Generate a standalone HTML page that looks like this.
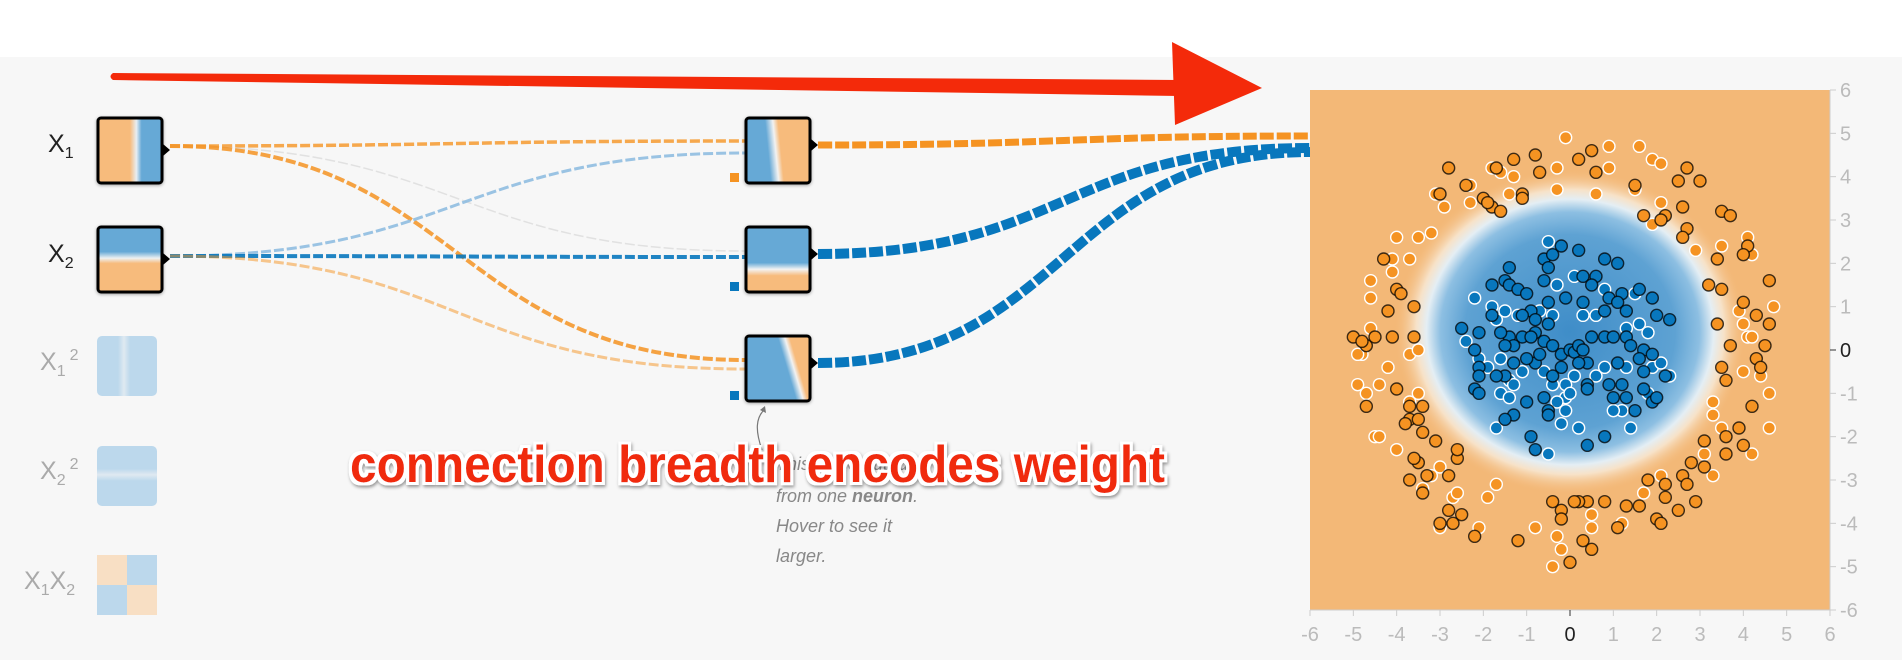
<!DOCTYPE html>
<html><head><meta charset="utf-8">
<style>
html,body{margin:0;padding:0;width:1902px;height:660px;overflow:hidden;background:#fff;font-family:"Liberation Sans",sans-serif}
svg{position:absolute;left:0;top:0}
</style></head>
<body>
<svg id="main" width="1902" height="660" viewBox="0 0 1902 660">
<defs>
 <linearGradient id="gX1" x1="0" x2="1" y1="0" y2="0"><stop offset="0.5" stop-color="#f7bb7c"/><stop offset="0.6" stop-color="#e8eef3"/><stop offset="0.68" stop-color="#66a9d6"/></linearGradient>
 <linearGradient id="gX2" x1="0" x2="0" y1="0" y2="1"><stop offset="0.38" stop-color="#66a9d6"/><stop offset="0.48" stop-color="#eef1f2"/><stop offset="0.56" stop-color="#f7bb7c"/></linearGradient>
 <linearGradient id="gH1" x1="0" x2="1" y1="0.1" y2="0"><stop offset="0.3" stop-color="#66a9d6"/><stop offset="0.42" stop-color="#f2f2f2"/><stop offset="0.5" stop-color="#f7bb7c"/></linearGradient>
 <linearGradient id="gH2" x1="0" x2="0" y1="0" y2="1"><stop offset="0.55" stop-color="#66a9d6"/><stop offset="0.65" stop-color="#f3f3f3"/><stop offset="0.75" stop-color="#f7bb7c"/></linearGradient>
 <linearGradient id="gH3" x1="0" x2="1" y1="0" y2="-0.3"><stop offset="0.45" stop-color="#66a9d6"/><stop offset="0.55" stop-color="#f2f2f2"/><stop offset="0.62" stop-color="#f7bb7c"/></linearGradient>
 <linearGradient id="gX1s" x1="0" x2="1"><stop offset="0.35" stop-color="#bcd8ec"/><stop offset="0.45" stop-color="#dfe9f1"/><stop offset="0.55" stop-color="#bcd8ec"/></linearGradient>
 <linearGradient id="gX2s" x1="0" x2="0" y1="0" y2="1"><stop offset="0.38" stop-color="#bcd8ec"/><stop offset="0.48" stop-color="#dfe9f1"/><stop offset="0.58" stop-color="#bcd8ec"/></linearGradient>
 <radialGradient id="blob" cx="0.5" cy="0.5" r="0.5"><stop offset="0" stop-color="#3f8dc8"/><stop offset="0.6" stop-color="#5ea2d3"/><stop offset="0.74" stop-color="#8dbfe2"/><stop offset="0.82" stop-color="#e4eef4"/><stop offset="0.88" stop-color="#f7e2c8"/><stop offset="1" stop-color="#f4bd80" stop-opacity="0"/></radialGradient>
 <filter id="sh"><feDropShadow dx="0" dy="1" stdDeviation="1.5" flood-opacity="0.35"/></filter>
 <filter id="glow"><feMorphology operator="dilate" radius="3" in="SourceAlpha" result="d"/><feFlood flood-color="#fff"/><feComposite in2="d" operator="in" result="w"/><feDropShadow in="w" dx="1" dy="2" stdDeviation="1.5" flood-opacity="0.4" result="ws"/><feMerge><feMergeNode in="ws"/><feMergeNode in="SourceGraphic"/></feMerge></filter>
</defs>
<rect x="0" y="57" width="1902" height="603" fill="#f7f7f7"/>

<g id="links"></g>

<g font-size="25" fill="#222">
 <text x="48" y="152">X<tspan font-size="16" dy="6">1</tspan></text>
 <text x="48" y="262">X<tspan font-size="16" dy="6">2</tspan></text>
 <text x="40" y="370" fill="#aaa">X<tspan font-size="16" dy="6">1</tspan><tspan font-size="16" dy="-16" dx="4">2</tspan></text>
 <text x="40" y="479" fill="#aaa">X<tspan font-size="16" dy="6">2</tspan><tspan font-size="16" dy="-16" dx="4">2</tspan></text>
 <text x="24" y="589" fill="#aaa">X<tspan font-size="16" dy="6">1</tspan><tspan dy="-6">X</tspan><tspan font-size="16" dy="6">2</tspan></text>
 <rect x="98" y="118" width="64" height="65" rx="3" fill="url(#gX1)" stroke="#000" stroke-width="3" filter="url(#sh)"/>
 <rect x="98" y="227" width="64" height="65" rx="3" fill="url(#gX2)" stroke="#000" stroke-width="3" filter="url(#sh)"/>
 <rect x="97" y="336" width="60" height="60" rx="5" fill="url(#gX1s)"/>
 <rect x="97" y="446" width="60" height="60" rx="5" fill="url(#gX2s)"/>
 <g><rect x="97" y="555" width="30" height="30" fill="#f8dfc4"/><rect x="127" y="555" width="30" height="30" fill="#bcd8ec"/><rect x="97" y="585" width="30" height="30" fill="#bcd8ec"/><rect x="127" y="585" width="30" height="30" fill="#f8dfc4"/></g>
 <path d="M163 144 l7 6 -7 6z" fill="#000"/><path d="M163 253 l7 6 -7 6z" fill="#000"/>
</g>

<g>
 <rect x="746" y="118" width="64" height="65" rx="3" fill="url(#gH1)" stroke="#000" stroke-width="3" filter="url(#sh)"/>
 <rect x="746" y="227" width="64" height="65" rx="3" fill="url(#gH2)" stroke="#000" stroke-width="3" filter="url(#sh)"/>
 <rect x="746" y="336" width="64" height="65" rx="3" fill="url(#gH3)" stroke="#000" stroke-width="3" filter="url(#sh)"/>
 <path d="M811 139 l7 6 -7 6z M811 248 l7 6 -7 6z M811 357 l7 6 -7 6z" fill="#000"/>
 <rect x="730" y="173" width="9" height="9" fill="#f59322"/>
 <rect x="730" y="282" width="9" height="9" fill="#0877bd"/>
 <rect x="730" y="391" width="9" height="9" fill="#0877bd"/>
</g>

<g id="plot">
 <rect x="1310" y="90" width="520" height="520" fill="#f3b877"/>
 <ellipse cx="1570" cy="332" rx="175" ry="162" fill="url(#blob)"/>
 <g id="pts"></g>
 <g id="axes" font-size="20" fill="#bbb"></g>
</g>

<g font-style="italic" font-size="18" fill="#888">
 <path d="M762 450 C 755 430, 756 418, 764 410" stroke="#777" fill="none" stroke-width="1.2"/>
 <path d="M760 410 l5 -4 1 7z" fill="#777"/>
 <text x="776" y="470">This is the output</text>
 <text x="776" y="502">from one <tspan font-weight="bold">neuron</tspan>.</text>
 <text x="776" y="532">Hover to see it</text>
 <text x="776" y="562">larger.</text>
</g>
<text x="350" y="482" font-size="52" font-weight="bold" fill="#f02a0a" textLength="815" lengthAdjust="spacingAndGlyphs" filter="url(#glow)">connection breadth encodes weight</text>

<g>
 <path d="M113 73 L1180 80 L1180 96 L113 80 Q108 76.5 113 73Z" fill="#f42a0a"/>
 <path d="M1172 42 L1262 88 L1175 125 Z" fill="#f42a0a"/>
</g>
</svg>
<script>
const orangeTrainX=[-2.8,-2.4,-2.0,-1.7,-1.3,-0.8,-0.7,0.2,0.6,0.5,1.5,2.5,2.7,3.0,2.6,2.2,1.7,2.7,3.5,3.7,3.4,4.1,4.0,3.2,3.5,4.0,4.6,4.3,3.4,3.7,4.6,4.5,4.3,3.5,3.6,4.4,4.2,3.9,3.6,3.6,4.0,3.1,2.8,3.1,2.6,2.7,2.2,1.8,2.2,2.5,2.9,2.0,2.1,1.6,1.3,1.1,0.8,0.4,0.2,0.1,-0.4,-0.2,-0.2,0.3,0.5,0.0,-1.2,-2.2,-2.5,-2.7,-3.0,-2.8,-3.4,-3.7,-2.8,-3.3,-3.5,-3.6,-2.6,-2.6,-3.7,-3.4,-3.1,-3.8,-3.7,-3.4,-3.5,-4.0,-4.7,-4.7,-5.0,-4.8,-4.5,-4.1,-3.6,-3.6,-4.2,-4.0,-3.9,-4.3,-3.0,-1.8,-1.1,-1.1,-1.6,-1.9,2.1,2.6];
const orangeTrainY=[4.2,3.8,3.5,4.2,4.4,4.5,4.1,4.4,4.1,4.6,3.8,3.9,4.2,3.9,3.3,3.1,3.1,2.8,3.2,3.1,2.1,2.4,2.2,1.5,1.4,1.1,1.6,0.8,0.6,0.1,0.6,0.1,-0.2,-0.4,-0.7,-0.4,-1.3,-1.8,-2.0,-2.4,-2.2,-2.1,-2.6,-2.7,-2.9,-3.1,-3.1,-3.0,-3.4,-3.7,-3.5,-3.9,-4.0,-3.6,-3.6,-4.1,-3.5,-3.5,-3.5,-3.5,-3.5,-3.7,-3.9,-4.4,-4.6,-4.9,-4.4,-4.3,-3.8,-4.0,-4.0,-3.7,-3.3,-3.0,-2.9,-2.9,-2.6,-2.5,-2.5,-2.3,-1.6,-1.9,-2.1,-1.7,-1.3,-1.3,-1.6,-0.9,-1.3,0.1,0.3,0.2,0.3,0.3,0.3,1.0,0.9,1.4,1.3,2.1,3.6,3.3,3.6,3.5,3.2,3.4,3.0,2.6];
const orangeTestX=[-3.1,-2.9,-2.3,-1.8,-1.4,-0.3,-0.3,-0.1,0.6,0.9,0.9,1.6,1.5,1.9,2.1,2.1,1.9,2.9,3.5,4.1,4.2,4.7,3.9,4.0,4.1,4.2,4.0,4.4,4.6,4.6,4.2,3.5,3.3,3.3,3.1,3.3,2.1,1.7,1.2,0.5,0.5,-0.3,-0.4,-0.2,-0.8,-1.7,-1.9,-2.1,-3.0,-2.7,-2.6,-3.4,-3.0,-3.2,-4.0,-4.5,-4.4,-4.9,-4.7,-4.4,-3.5,-3.7,-3.7,-3.5,-4.2,-4.8,-4.9,-4.6,-4.6,-4.6,-4.1,-4.1,-4.0,-3.5,-3.2,-3.7,-2.3,-1.6,-1.3];
const orangeTestY=[3.6,3.3,3.4,4.2,3.6,4.2,3.7,4.9,3.6,4.2,4.7,4.7,3.7,4.4,4.3,3.4,2.9,2.3,2.4,2.6,2.2,1.0,0.9,0.6,0.3,0.3,-0.5,-0.6,-1.0,-1.8,-2.4,-1.8,-1.5,-1.2,-2.4,-2.9,-2.9,-3.3,-4.0,-4.1,-3.8,-4.3,-5.0,-4.6,-4.1,-3.1,-3.4,-4.1,-4.1,-3.4,-3.3,-3.2,-2.7,-2.9,-2.3,-2.0,-2.0,-0.8,-1.0,-0.8,-1.0,-1.2,-0.1,0.0,-0.4,-0.1,-0.1,0.5,1.2,1.6,1.8,2.1,2.6,2.6,2.7,2.1,3.8,4.1,4.0];
const blueTrainX=[-2.5,-2.1,-2.2,-2.1,-2.1,-2.2,-2.1,-1.8,-1.8,-1.5,-1.4,-1.4,-1.2,-1.0,-0.9,-0.6,-0.6,-0.5,-0.4,-0.2,0.2,0.8,1.1,0.6,0.3,0.5,0.9,1.2,1.6,1.9,2.0,2.3,1.1,1.3,0.8,0.3,-0.1,-0.5,-0.8,-1.1,-0.5,-0.8,-1.1,-1.4,-1.6,-1.3,-1.5,-0.9,-0.6,-0.4,-0.2,0.0,0.1,0.2,0.3,0.4,0.5,0.8,1.0,1.3,1.4,1.7,1.9,1.6,2.2,1.7,1.1,0.9,1.2,1.3,1.0,0.4,0.4,0.2,-0.2,-0.4,-0.8,-1.0,-0.7,-1.3,-1.5,-1.7,-1.0,-0.6,-0.5,-0.5,-1.3,-1.5,-0.9,-0.8,0.4,0.8,1.5,1.9,2.0,1.7];
const blueTrainY=[0.5,0.4,0.0,-0.4,-0.6,-0.9,-1.0,0.8,1.5,1.6,1.9,1.5,1.4,1.3,0.9,1.6,2.1,1.9,2.2,2.4,2.3,2.1,2.0,1.7,1.7,1.5,1.2,1.3,1.4,1.2,0.8,0.7,1.1,0.9,0.9,1.1,1.2,1.1,0.7,0.8,0.6,0.4,0.3,0.3,0.4,0.1,0.1,0.3,0.2,0.1,-0.1,0.0,-0.05,0.1,0.0,-0.3,0.3,0.3,0.3,0.3,0.1,0.0,-0.1,-0.2,-0.6,-0.9,-0.3,-0.8,-0.8,-1.1,-1.1,-0.8,-0.9,-0.3,-0.4,-0.6,-0.3,-0.2,-0.1,-0.3,-0.6,-0.6,-1.2,-1.1,-1.4,-1.5,-1.5,-1.6,-2.0,-2.3,-2.2,-2.0,-1.4,-1.2,-1.1,-0.5];
const blueTestX=[-2.2,-1.8,-1.5,-1.7,-1.2,-0.7,-0.4,0.1,0.3,0.6,0.8,1.5,1.6,1.8,1.3,-0.5,-0.3,-2.4,-2.1,-1.9,-1.6,-1.4,-1.1,-1.6,-1.3,-0.6,-0.4,-0.1,0.1,0.6,0.8,1.3,1.9,2.1,2.3,1.8,1.2,1.4,0.2,-0.2,-0.1,-0.1,-1.7,-0.5,-0.3,-1.4,0.0,1.0];
const blueTestY=[1.2,1.0,0.9,0.7,0.8,0.9,0.8,1.7,0.8,0.8,1.4,1.3,0.6,0.4,0.5,2.5,1.5,0.2,-0.2,-0.4,-0.2,-0.7,-0.5,-1.0,-0.8,-0.5,-0.8,-0.8,-0.6,-0.6,-0.4,-0.4,-0.4,-0.3,-0.6,-1.0,-1.4,-1.8,-1.8,-1.7,-1.4,-1.1,-1.8,-2.4,-1.2,-1.1,-1.0,-1.4];
const xTicks=[-6,-5,-4,-3,-2,-1,0,1,2,3,4,5,6];
const yTicks=[6,5,4,3,2,1,0,-1,-2,-3,-4,-5,-6];
const linkFrom=[[170,146],[170,146],[170,146],[170,256],[170,256],[170,256]];
const linkTo=[[745,141],[745,251],[745,360],[745,153],[745,257],[745,369]];
const linkColor=["#f59322","#cccccc","#f59322","#8fbde0","#0877bd","#f59322"];
const linkWidth=[3.5,1.5,4,3,4,3];
const linkOpacity=[0.8,0.5,0.85,0.9,0.9,0.5];
const outFrom=[[818,145],[818,254],[818,363]];
const outTo=[[1310,136],[1310,148],[1310,152]];
const outColor=["#f59322","#0877bd","#0877bd"];
const outWidth=[7,10,10];

const NS="http://www.w3.org/2000/svg";
const X0=1310,Y0=90,S=520/12;
const sx=v=>X0+(v+6)*S, sy=v=>Y0+(6-v)*S;
function mk(tag,attrs,parent){const e=document.createElementNS(NS,tag);for(const k in attrs)e.setAttribute(k,attrs[k]);parent.appendChild(e);return e;}
const links=document.getElementById('links');
function curve(a,b){const m=(a[0]+b[0])/2;return `M${a[0]} ${a[1]} C${m} ${a[1]} ${m} ${b[1]} ${b[0]} ${b[1]}`;}
for(let i=0;i<linkFrom.length;i++){
 const p=mk('path',{d:curve(linkFrom[i],linkTo[i]),stroke:linkColor[i],'stroke-width':linkWidth[i],'stroke-opacity':linkOpacity[i],fill:'none','stroke-dasharray':'10 3'},links);
 
 
}
for(let i=0;i<outFrom.length;i++){
 const p=mk('path',{d:curve(outFrom[i],outTo[i]),stroke:outColor[i],'stroke-width':outWidth[i],fill:'none','stroke-dasharray':'14 3'},links);
 
 
}
const pts=document.getElementById('pts');
function dots(xs,ys,fill,stroke,name){for(let i=0;i<xs.length;i++){
 const c=mk('circle',{cx:sx(xs[i]),cy:sy(ys[i]),r:6,fill:fill,stroke:stroke,'stroke-width':1.4,'stroke-opacity':stroke=='#000'?0.75:1},pts);
 
 
}}
dots(orangeTestX,orangeTestY,'#f59322','#fff','orange-test-point');
dots(blueTestX,blueTestY,'#0877bd','#fff','blue-test-point');
dots(orangeTrainX,orangeTrainY,'#f59322','#000','orange-train-point');
dots(blueTrainX,blueTrainY,'#0877bd','#000','blue-train-point');
const ax=document.getElementById('axes');
mk('line',{x1:X0,y1:610,x2:1830,y2:610,stroke:'#ccc'},ax);
mk('line',{x1:1830,y1:90,x2:1830,y2:610,stroke:'#ccc'},ax);
xTicks.forEach(t=>{
 mk('line',{x1:sx(t),x2:sx(t),y1:610,y2:616,stroke:t===0?'#333':'#ccc'},ax);
 const tx=mk('text',{x:sx(t),y:641,'text-anchor':'middle',fill:t===0?'#222':'#bbb'},ax);tx.textContent=t;
 
 
});
yTicks.forEach(t=>{
 mk('line',{x1:1830,x2:1836,y1:sy(t),y2:sy(t),stroke:t===0?'#333':'#ccc'},ax);
 const tx=mk('text',{x:1840,y:sy(t)+7,fill:t===0?'#222':'#bbb'},ax);tx.textContent=t;
 
 
});
</script>
</body></html>
